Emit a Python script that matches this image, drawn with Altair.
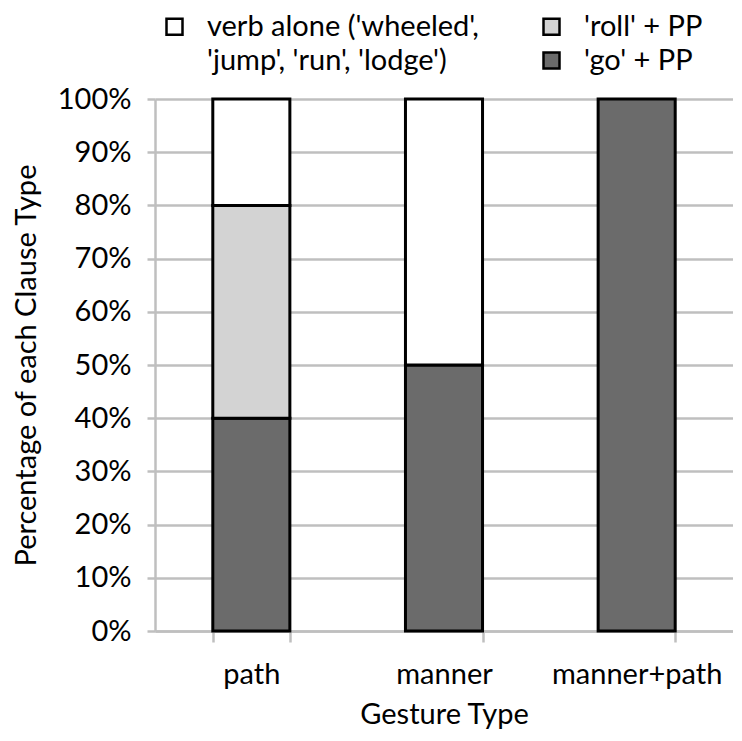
import altair as alt
import pandas as pd

gestures = ["path", "manner", "manner+path"]
verb_label = "verb alone ('wheeled',"
verb_label_2 = "'jump', 'run', 'lodge')"
roll_label = "'roll' + PP"
go_label = "'go' + PP"
# legend domain (column-major grid: col 1 = verb alone two lines, col 2 = roll / go)
legend_domain = [verb_label, verb_label_2, roll_label, go_label]
fill_range = ["white", "white", "#d3d3d3", "#6b6b6b"]
stroke_range = ["black", "white", "black", "black"]

go_pp = [40, 50, 100]
roll_pp = [40, 0, 0]
verb_alone = [20, 50, 0]
y_ticks = [0, 0.1, 0.2, 0.3, 0.4, 0.5, 0.6, 0.7, 0.8, 0.9, 1.0]

rows = []
for i, g in enumerate(gestures):
    for t, vals, o in [(go_label, go_pp, 0), (roll_label, roll_pp, 1), (verb_label, verb_alone, 2)]:
        if vals[i] > 0:
            rows.append({"gesture": g, "type": t, "value": vals[i] / 100, "order": o})
df = pd.DataFrame(rows)

FONT = "Lato"
FS = 29
GREY = "#bfbfbf"

legend = alt.Legend(
    title=None, orient="none", legendX=5, legendY=-87, columns=2,
    symbolType="square", symbolSize=256, symbolStrokeWidth=2.5,
    labelFont=FONT, labelFontSize=FS, labelColor="black", labelLimit=600,
    columnPadding=58, rowPadding=4, padding=0, labelOffset=18,
)

chart = alt.Chart(df).mark_bar(strokeWidth=3).encode(
    x=alt.X("gesture:N", sort=gestures, title="Gesture Type",
            scale=alt.Scale(paddingInner=0.6, paddingOuter=0.3),
            axis=alt.Axis(labelAngle=0, tickBand="extent", tickSize=11, grid=False,
                          domainColor=GREY, domainWidth=2.5, tickColor=GREY, tickWidth=2.5,
                          labelPadding=18, titlePadding=11)),
    y=alt.Y("value:Q", stack="zero", scale=alt.Scale(domain=[0, 1]),
            title="Percentage of each Clause Type",
            axis=alt.Axis(format=".0%", values=y_ticks, tickSize=8, grid=True,
                          gridColor=GREY, gridWidth=2.5, domainColor=GREY, domainWidth=2.5,
                          tickColor=GREY, tickWidth=2.5, labelPadding=16, titlePadding=16)),
    fill=alt.Fill("type:N", scale=alt.Scale(domain=legend_domain, range=fill_range), legend=legend),
    stroke=alt.Stroke("type:N", scale=alt.Scale(domain=legend_domain, range=stroke_range), legend=legend),
    order=alt.Order("order:Q"),
).properties(
    width=578, height=532,
    padding={"left": 147, "top": 91, "right": 0, "bottom": 102},
    autosize="none",
).configure_view(stroke=None).configure_axis(
    labelFont=FONT, labelFontSize=FS, labelColor="black",
    titleFont=FONT, titleFontSize=FS, titleColor="black", titleFontWeight="normal",
)

chart.save("out.html", embed_options={"renderer": "svg", "actions": False})
